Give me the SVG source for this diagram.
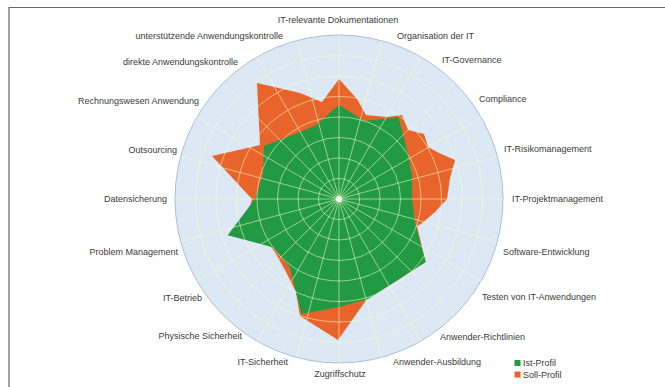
<svg xmlns="http://www.w3.org/2000/svg" width="665" height="387" viewBox="0 0 665 387">
<style>
text{font-family:"Liberation Sans",Arial,sans-serif;font-size:9px;fill:#3a3a3a}
.grid{fill:none;stroke:#f5ffd0;stroke-opacity:0.55;stroke-width:1}
.s{text-anchor:start}.e{text-anchor:end}.m{text-anchor:middle}
</style>
<defs>
<radialGradient id="dot"><stop offset="0" stop-color="#fff"/><stop offset="0.5" stop-color="#fff" stop-opacity="0.9"/><stop offset="1" stop-color="#fff" stop-opacity="0"/></radialGradient>
</defs>
<rect width="665" height="387" fill="#fff"/>
<path d="M9 387 V7.5 H665" fill="none" stroke="#6a6a6a" stroke-width="1.2"/>
<g id="chart">
<circle cx="339" cy="199" r="164" fill="#dce8f3" stroke="#a9bfd4" stroke-width="1"/>
<polygon id="soll" fill="#e8642a" points="339,79 357,99 366,115 387,117 402,115 408,130 424,134 428,147 439,153 455,160 450,178 447,199 435,212 421,224 417,226 425.6,261.9 397.8,279.9 367,299 338,340 300,316 296,292 286,272 276,254 271.9,247.8 243.9,229.9 252,199 212,156 260,145 257,83 300,93 322,102"/>
<polygon id="ist" fill="#219a43" points="339,105 364.3,121 398.4,117.3 407,149.6 412.2,175.2 412,199 415.1,223.7 425.6,261.9 397.8,279.9 368,299 339,307 301.6,314.1 289.6,267 272.7,247.2 227.7,235.2 255,199 262.9,174.3 264,146 292.6,135.1 315.2,125.8"/>
<g class="grid">
<circle cx="339" cy="199" r="20.5"/>
<circle cx="339" cy="199" r="41"/>
<circle cx="339" cy="199" r="61.5"/>
<circle cx="339" cy="199" r="82"/>
<circle cx="339" cy="199" r="102.5"/>
<circle cx="339" cy="199" r="123"/>
<circle cx="339" cy="199" r="143.5"/>
<line x1="339" y1="35" x2="339" y2="363"/>
<line x1="381.45" y1="40.59" x2="296.55" y2="357.41"/>
<line x1="421" y1="56.97" x2="257" y2="341.03"/>
<line x1="454.97" y1="83.03" x2="223.03" y2="314.97"/>
<line x1="481.03" y1="117" x2="196.97" y2="281"/>
<line x1="497.41" y1="156.55" x2="180.59" y2="241.45"/>
<line x1="503" y1="199" x2="175" y2="199"/>
<line x1="497.41" y1="241.45" x2="180.59" y2="156.55"/>
<line x1="481.03" y1="281" x2="196.97" y2="117"/>
<line x1="454.97" y1="314.97" x2="223.03" y2="83.03"/>
<line x1="421" y1="341.03" x2="257" y2="56.97"/>
<line x1="381.45" y1="357.41" x2="296.55" y2="40.59"/>
</g>
<circle cx="339" cy="199" r="4" fill="url(#dot)"/>
</g>
<g id="labels">
<text id="l0" class="m" x="338" y="23">IT-relevante Dokumentationen</text>
<text id="l1" class="s" x="397" y="39">Organisation der IT</text>
<text id="l2" class="s" x="442" y="63">IT-Governance</text>
<text id="l3" class="s" x="479" y="102">Compliance</text>
<text id="l4" class="s" x="504" y="152">IT-Risikomanagement</text>
<text id="l5" class="s" x="512" y="202">IT-Projektmanagement</text>
<text id="l6" class="s" x="503" y="255">Software-Entwicklung</text>
<text id="l7" class="s" x="482" y="300">Testen von IT-Anwendungen</text>
<text id="l8" class="s" x="440" y="340">Anwender-Richtlinien</text>
<text id="l9" class="s" x="393" y="365">Anwender-Ausbildung</text>
<text id="l10" class="m" x="340" y="377">Zugriffschutz</text>
<text id="l11" class="e" x="288" y="365">IT-Sicherheit</text>
<text id="l12" class="e" x="242" y="339">Physische Sicherheit</text>
<text id="l13" class="e" x="202" y="301">IT-Betrieb</text>
<text id="l14" class="e" x="178" y="255">Problem Management</text>
<text id="l15" class="e" x="167" y="202">Datensicherung</text>
<text id="l16" class="e" x="177" y="153">Outsourcing</text>
<text id="l17" class="e" x="199" y="104">Rechnungswesen Anwendung</text>
<text id="l18" class="e" x="238" y="65">direkte Anwendungskontrolle</text>
<text id="l19" class="e" x="283" y="39">unterstützende Anwendungskontrolle</text>
</g>
<g id="legend">
<rect x="514.5" y="360" width="6" height="6" fill="#219a43"/>
<text x="523" y="366">Ist-Profil</text>
<rect x="514.5" y="371.5" width="6" height="6" fill="#e8642a"/>
<text x="523" y="377.5">Soll-Profil</text>
</g>
</svg>
